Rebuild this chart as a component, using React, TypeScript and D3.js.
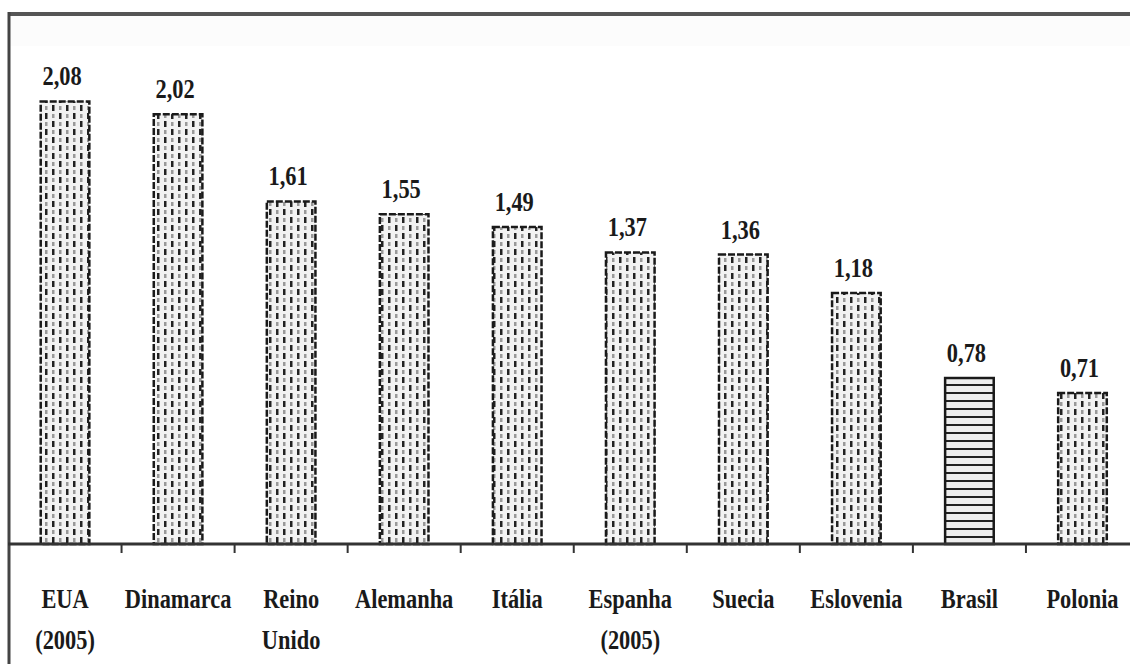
import { useRef, useEffect } from 'react';
import * as d3 from 'd3';

const countries = ['EUA', 'Dinamarca', 'Reino', 'Alemanha', 'Itália', 'Espanha', 'Suecia', 'Eslovenia', 'Brasil', 'Polonia'];
const subLabels = ['(2005)', '', 'Unido', '', '', '(2005)', '', '', '', ''];
const values = [2.08, 2.02, 1.61, 1.55, 1.49, 1.37, 1.36, 1.18, 0.78, 0.71];
const valueLabels = ['2,08', '2,02', '1,61', '1,55', '1,49', '1,37', '1,36', '1,18', '0,78', '0,71'];
const highlighted = ['Brasil'];

const W = 1130;
const H = 664;

export default function App() {
  const svgRef = useRef<SVGSVGElement>(null);

  useEffect(() => {
    const svg = d3.select(svgRef.current);
    svg.selectAll('*').remove();

    const x = d3.scaleBand<string>()
      .domain(countries)
      .range([8.5, 1139])
      .paddingInner(0.57)
      .paddingOuter(0.285);
    const y = d3.scaleLinear().domain([0, 2.5]).range([544, 12]);
    const step = x.step();
    const x0 = x.range()[0];

    const defs = svg.append('defs');

    // dotted pattern
    const dots = defs.append('pattern')
      .attr('id', 'dots')
      .attr('patternUnits', 'userSpaceOnUse')
      .attr('width', 14)
      .attr('height', 16);
    dots.append('rect').attr('width', 14).attr('height', 16).attr('fill', '#f2f2f2');
    dots.append('rect').attr('x', 3).attr('y', 1).attr('width', 2.5).attr('height', 6).attr('fill', '#222');
    dots.append('rect').attr('x', 10).attr('y', 9).attr('width', 2.5).attr('height', 6).attr('fill', '#222');
    dots.append('rect').attr('x', 10).attr('y', 2).attr('width', 2.5).attr('height', 4).attr('fill', '#999');
    dots.append('rect').attr('x', 3).attr('y', 10).attr('width', 2.5).attr('height', 4).attr('fill', '#999');

    // horizontal lines pattern
    const lines = defs.append('pattern')
      .attr('id', 'hlines')
      .attr('patternUnits', 'userSpaceOnUse')
      .attr('width', 10)
      .attr('height', 8);
    lines.append('rect').attr('width', 10).attr('height', 8).attr('fill', '#eee');
    lines.append('rect').attr('y', 0).attr('width', 10).attr('height', 2).attr('fill', '#222');

    svg.append('rect').attr('width', W).attr('height', H).attr('fill', '#fff');
    svg.append('rect').attr('x', 8).attr('y', 16).attr('width', W).attr('height', 30).attr('fill', '#fcfcfc');

    // frame
    svg.append('line')
      .attr('x1', 8).attr('x2', W).attr('y1', 14).attr('y2', 14)
      .attr('stroke', '#555').attr('stroke-width', 4);
    svg.append('line')
      .attr('x1', 9).attr('x2', 9).attr('y1', 12).attr('y2', H)
      .attr('stroke', '#444').attr('stroke-width', 3);

    // bars
    svg.selectAll('.bar')
      .data(countries)
      .join('rect')
      .attr('class', 'bar')
      .attr('x', (d) => x(d)!)
      .attr('y', (_d, i) => y(values[i]))
      .attr('width', x.bandwidth())
      .attr('height', (_d, i) => y(0) - y(values[i]))
      .attr('fill', (d) => (highlighted.includes(d) ? 'url(#hlines)' : 'url(#dots)'))
      .attr('stroke', '#1a1a1a')
      .attr('stroke-width', 2.5)
      .attr('stroke-dasharray', (d) => (highlighted.includes(d) ? null : '7,2'));

    // axis baseline and ticks
    svg.append('line')
      .attr('x1', 8).attr('x2', W).attr('y1', y(0)).attr('y2', y(0))
      .attr('stroke', '#333').attr('stroke-width', 3);
    svg.selectAll('.tick')
      .data(d3.range(1, countries.length))
      .join('line')
      .attr('class', 'tick')
      .attr('x1', (i) => x0 + i * step)
      .attr('x2', (i) => x0 + i * step)
      .attr('y1', y(0))
      .attr('y2', y(0) + 9)
      .attr('stroke', '#333')
      .attr('stroke-width', 2);

    const font = "'Liberation Serif', 'Times New Roman', serif";
    const addText = (cx: number, by: number, txt: string) => {
      svg.append('text')
        .attr('transform', `translate(${cx},${by}) scale(0.8,1)`)
        .attr('text-anchor', 'middle')
        .attr('font-family', font)
        .attr('font-weight', 'bold')
        .attr('font-size', 28)
        .attr('fill', '#1a1a1a')
        .text(txt);
    };

    countries.forEach((c, i) => {
      const cx = x(c)! + x.bandwidth() / 2;
      addText(cx - 3, y(values[i]) - 16, valueLabels[i]);
      addText(cx, 608, c);
      if (subLabels[i]) addText(cx, 649, subLabels[i]);
    });
  }, []);

  return (
    <svg
      ref={svgRef}
      width={W}
      height={H}
      viewBox={`0 0 ${W} ${H}`}
      style={{ position: 'absolute', left: 0, top: 0, display: 'block' }}
    />
  );
}
